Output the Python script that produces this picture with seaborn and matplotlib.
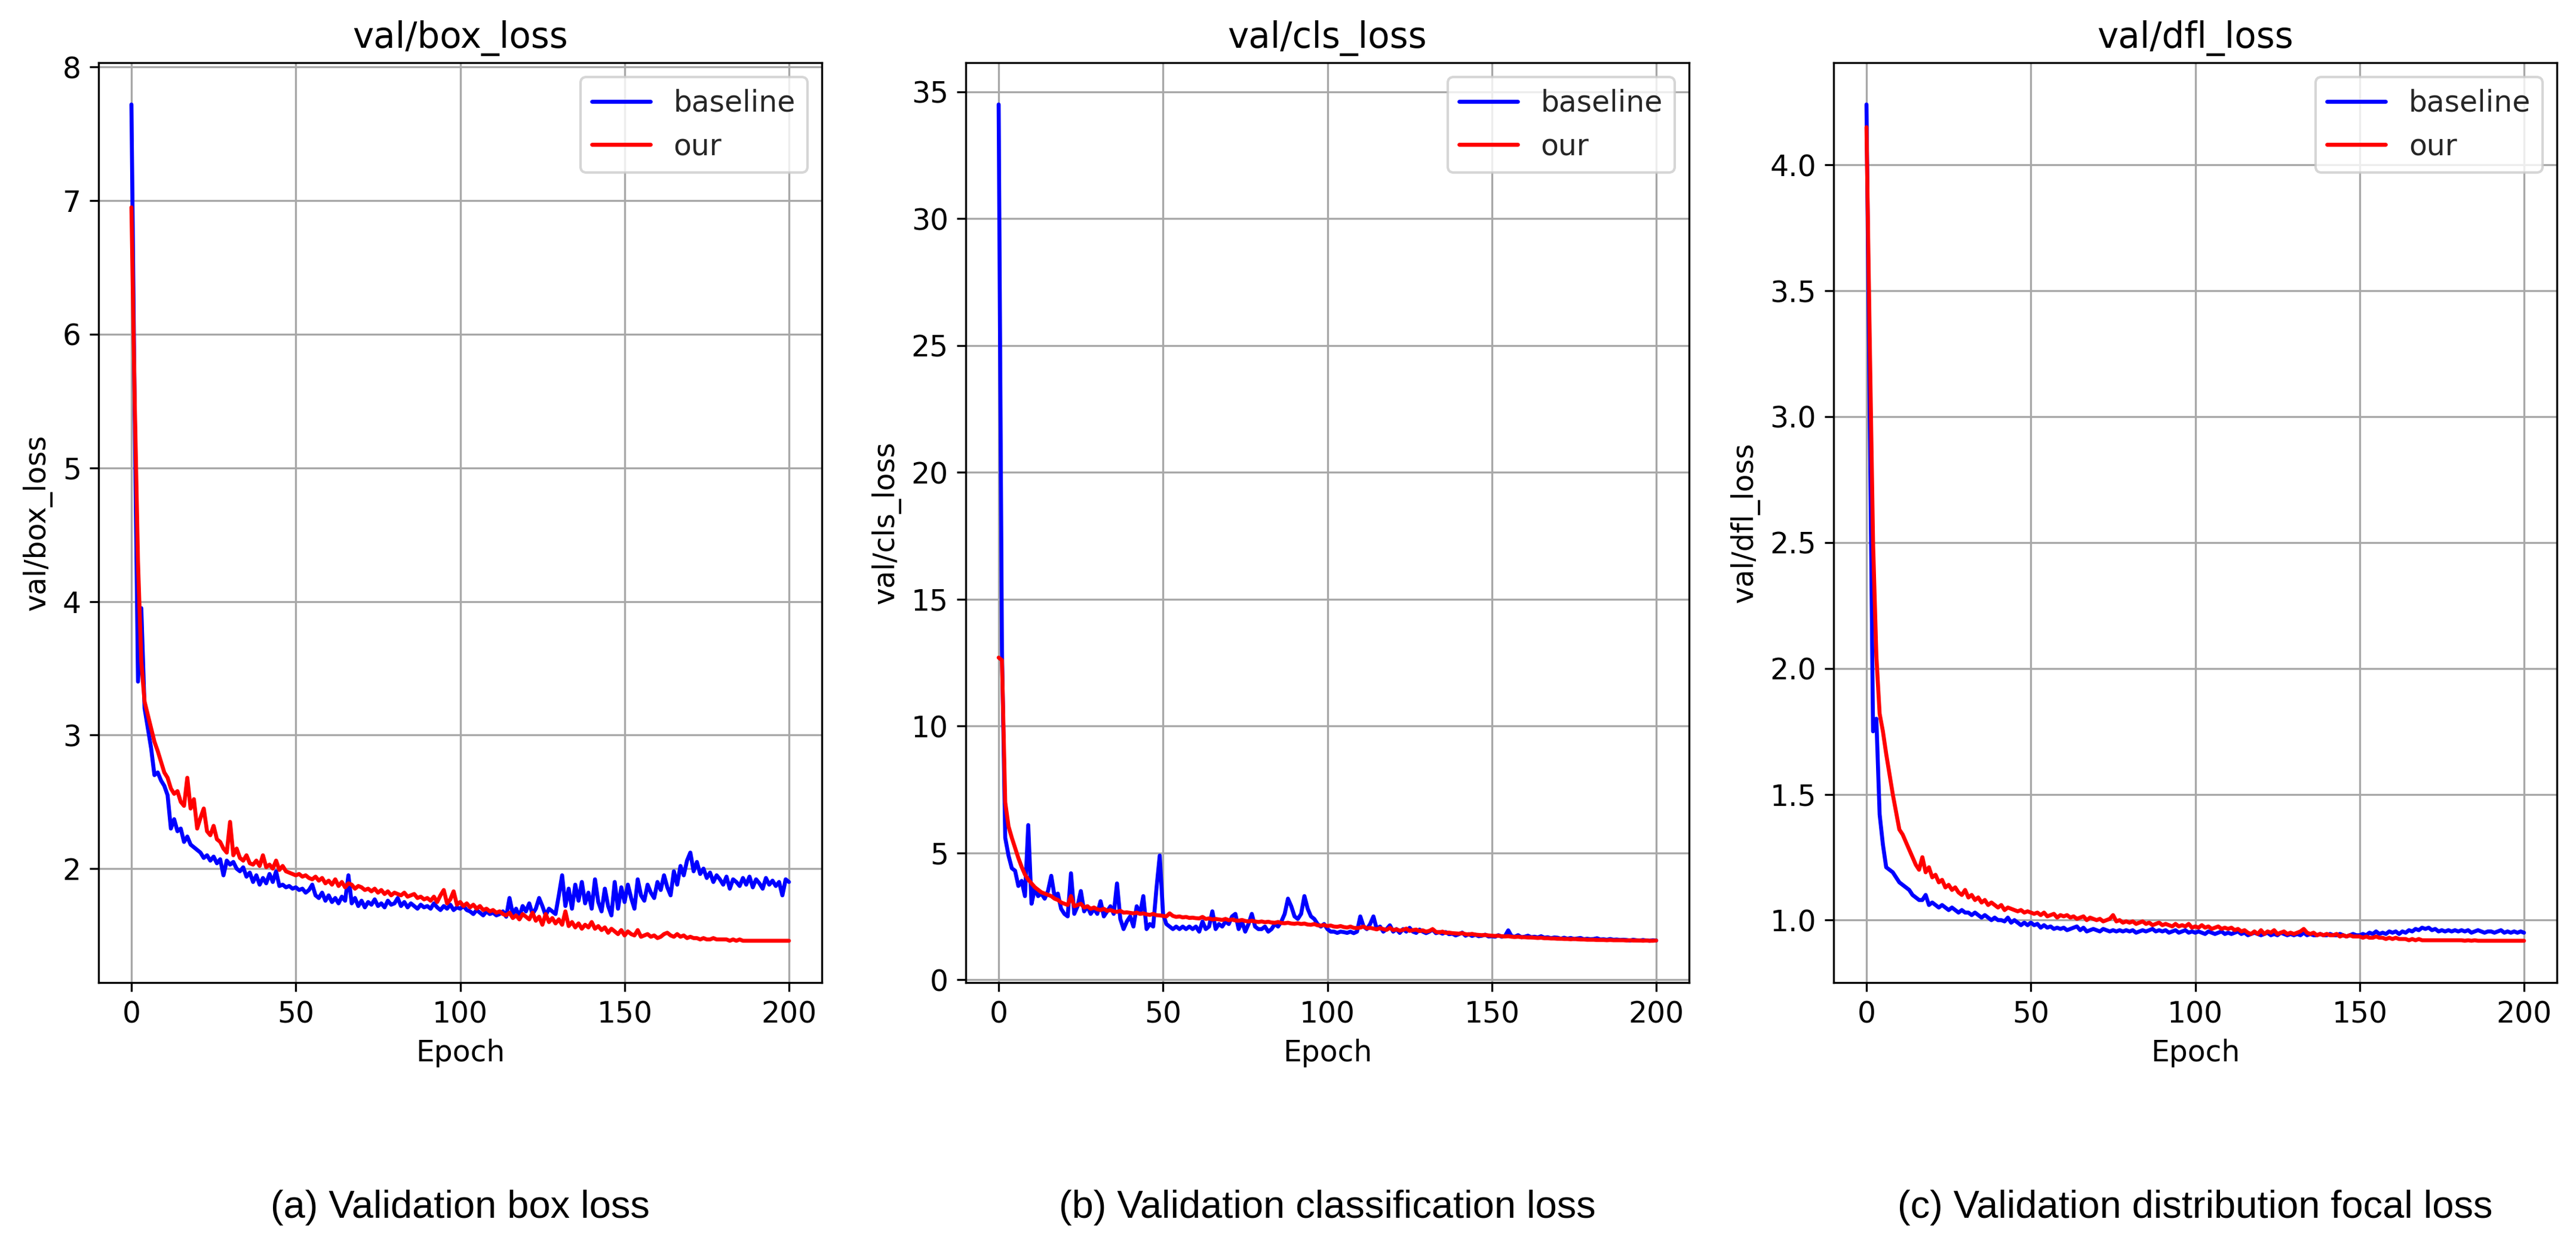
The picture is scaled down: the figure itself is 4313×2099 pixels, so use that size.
import numpy as np
import pandas as pd
import matplotlib
matplotlib.use("Agg")
import matplotlib.pyplot as plt
import seaborn as sns

# epochs shown on the x axis
epochs = list(range(201))

# val/box_loss
box_baseline = [
    7.72, 5.40, 3.40, 3.95, 3.20, 3.05, 2.90, 2.70, 2.72, 2.66,
    2.62, 2.55, 2.30, 2.37, 2.28, 2.30, 2.20, 2.24, 2.18, 2.16,
    2.14, 2.12, 2.08, 2.10, 2.06, 2.09, 2.04, 2.07, 1.95, 2.06,
    2.03, 2.05, 2.00, 1.98, 2.01, 1.94, 1.97, 1.90, 1.95, 1.88,
    1.93, 1.89, 1.96, 1.90, 1.98, 1.87, 1.88, 1.86, 1.87, 1.85,
    1.86, 1.84, 1.85, 1.82, 1.84, 1.88, 1.80, 1.78, 1.82, 1.76,
    1.80, 1.75, 1.78, 1.74, 1.79, 1.76, 1.95, 1.74, 1.78, 1.72,
    1.76, 1.71, 1.75, 1.73, 1.77, 1.72, 1.74, 1.71, 1.76, 1.73,
    1.74, 1.78, 1.72, 1.75, 1.71, 1.74, 1.72, 1.70, 1.73, 1.71,
    1.72, 1.70, 1.74, 1.71, 1.69, 1.72, 1.70, 1.73, 1.69, 1.71,
    1.70, 1.72, 1.69, 1.68, 1.66, 1.69, 1.67, 1.65, 1.68, 1.66,
    1.67, 1.65, 1.66, 1.68, 1.64, 1.78, 1.66, 1.70, 1.64, 1.72,
    1.68, 1.74, 1.66, 1.70, 1.78, 1.72, 1.65, 1.70, 1.68, 1.66,
    1.80, 1.95, 1.72, 1.85, 1.70, 1.88, 1.76, 1.90, 1.74, 1.82,
    1.70, 1.92, 1.75, 1.68, 1.85, 1.72, 1.65, 1.90, 1.70, 1.86,
    1.75, 1.88, 1.78, 1.70, 1.92, 1.80, 1.76, 1.88, 1.82, 1.78,
    1.90, 1.84, 1.95, 1.86, 1.80, 1.98, 1.88, 2.02, 1.95, 2.06,
    2.12, 1.98, 2.05, 1.96, 2.00, 1.93, 1.97, 1.90, 1.95, 1.92,
    1.88, 1.94, 1.85, 1.92, 1.90, 1.87, 1.93, 1.88, 1.94, 1.86,
    1.92, 1.89, 1.85, 1.93, 1.88, 1.91, 1.87, 1.90, 1.80, 1.92,
    1.90,
]
box_our = [
    6.95, 5.50, 4.30, 3.55, 3.25, 3.15, 3.05, 2.95, 2.88, 2.80,
    2.72, 2.68, 2.60, 2.56, 2.58, 2.50, 2.47, 2.68, 2.45, 2.52,
    2.30, 2.38, 2.45, 2.28, 2.25, 2.32, 2.22, 2.20, 2.15, 2.12,
    2.35, 2.10, 2.15, 2.08, 2.06, 2.10, 2.04, 2.03, 2.06, 2.02,
    2.10, 2.01, 2.03, 2.00, 2.06, 1.99, 2.02, 1.98, 1.97, 1.96,
    1.95, 1.96, 1.94, 1.95, 1.93, 1.92, 1.94, 1.91, 1.93, 1.89,
    1.91, 1.88, 1.92, 1.87, 1.90, 1.86, 1.89, 1.88, 1.85, 1.87,
    1.86, 1.84, 1.85, 1.83, 1.85, 1.82, 1.84, 1.81, 1.83, 1.80,
    1.82, 1.81, 1.80, 1.82, 1.79, 1.80, 1.81, 1.78, 1.79, 1.77,
    1.78, 1.76, 1.79, 1.75, 1.80, 1.84, 1.74, 1.77, 1.83, 1.73,
    1.75, 1.72, 1.74, 1.71, 1.73, 1.70, 1.72, 1.69, 1.70, 1.68,
    1.69, 1.67, 1.68, 1.66, 1.65, 1.67, 1.63, 1.65, 1.62, 1.66,
    1.64, 1.62, 1.67, 1.61, 1.64, 1.58, 1.66, 1.60, 1.63, 1.59,
    1.62, 1.58, 1.68, 1.57, 1.60, 1.56, 1.59, 1.55, 1.58, 1.56,
    1.60, 1.55, 1.57, 1.54, 1.56, 1.52, 1.55, 1.53, 1.51, 1.54,
    1.50, 1.53, 1.51, 1.50, 1.54, 1.49, 1.50, 1.51, 1.49, 1.50,
    1.48, 1.49, 1.51, 1.52, 1.50, 1.49, 1.51, 1.49, 1.50, 1.48,
    1.49, 1.48, 1.48, 1.47, 1.48, 1.47, 1.47, 1.48, 1.47, 1.47,
    1.47, 1.47, 1.46, 1.47, 1.46, 1.47, 1.46, 1.46, 1.46, 1.46,
    1.46, 1.46, 1.46, 1.46, 1.46, 1.46, 1.46, 1.46, 1.46, 1.46,
    1.46,
]

# val/cls_loss
cls_baseline = [
    34.5, 13.0, 5.60, 4.90, 4.40, 4.30, 3.70, 3.90, 3.30, 6.10,
    3.00, 3.60, 3.30, 3.40, 3.20, 3.50, 4.10, 3.30, 3.40, 2.80,
    2.60, 2.50, 4.20, 2.60, 2.90, 3.50, 2.70, 2.90, 2.60, 2.80,
    2.60, 3.10, 2.50, 2.70, 2.90, 2.60, 3.80, 2.40, 2.00, 2.30,
    2.50, 2.10, 2.90, 2.60, 3.30, 2.00, 2.20, 2.10, 3.60, 4.90,
    2.60, 2.20, 2.10, 2.00, 2.10, 2.00, 2.10, 2.00, 2.10, 2.00,
    2.10, 1.90, 2.30, 2.00, 2.10, 2.70, 2.00, 2.20, 2.10, 2.30,
    2.20, 2.50, 2.60, 2.00, 2.30, 1.90, 2.20, 2.60, 2.10, 2.00,
    2.00, 2.10, 1.90, 2.00, 2.20, 2.10, 2.30, 2.60, 3.20, 2.90,
    2.50, 2.40, 2.60, 3.30, 2.80, 2.50, 2.40, 2.20, 2.10, 2.20,
    2.00, 1.90, 1.90, 1.85, 1.90, 1.88, 1.85, 1.90, 1.84, 1.90,
    2.50, 2.10, 2.00, 2.20, 2.50, 2.00, 2.10, 1.90, 2.00, 2.15,
    1.90, 2.00, 1.85, 2.00, 1.90, 2.05, 1.90, 1.85, 1.98, 1.90,
    1.84, 1.90, 1.98, 1.84, 1.88, 1.82, 1.88, 1.80, 1.82, 1.75,
    1.80, 1.86, 1.74, 1.80, 1.73, 1.78, 1.72, 1.74, 1.78, 1.71,
    1.72, 1.70, 1.76, 1.70, 1.72, 1.95, 1.72, 1.70, 1.76, 1.68,
    1.70, 1.74, 1.68, 1.70, 1.67, 1.72, 1.66, 1.68, 1.64, 1.67,
    1.66, 1.62, 1.66, 1.62, 1.65, 1.61, 1.63, 1.65, 1.60, 1.62,
    1.60, 1.61, 1.64, 1.59, 1.60, 1.58, 1.61, 1.58, 1.59, 1.57,
    1.58, 1.57, 1.55, 1.58, 1.56, 1.55, 1.57, 1.55, 1.54, 1.56,
    1.55,
]
cls_our = [
    12.70, 12.60, 7.00, 6.05, 5.60, 5.20, 4.80, 4.45, 4.15, 3.95,
    3.80, 3.65, 3.55, 3.45, 3.40, 3.35, 3.30, 3.20, 3.15, 3.05,
    3.00, 2.95, 3.30, 2.90, 2.95, 3.00, 2.85, 2.90, 2.80, 2.85,
    2.78, 2.75, 2.80, 2.72, 2.75, 2.70, 2.68, 2.72, 2.65, 2.66,
    2.64, 2.62, 2.65, 2.60, 2.62, 2.58, 2.56, 2.60, 2.55, 2.54,
    2.52, 2.50, 2.62, 2.52, 2.48, 2.50, 2.46, 2.48, 2.44, 2.45,
    2.43, 2.42, 2.48, 2.40, 2.42, 2.38, 2.40, 2.38, 2.36, 2.40,
    2.35, 2.38, 2.34, 2.33, 2.36, 2.32, 2.30, 2.33, 2.30, 2.28,
    2.30, 2.27, 2.29, 2.26, 2.25, 2.28, 2.24, 2.23, 2.25, 2.22,
    2.21, 2.23, 2.20, 2.22, 2.18, 2.17, 2.20, 2.15, 2.14, 2.16,
    2.12, 2.14, 2.10, 2.09, 2.12, 2.08, 2.06, 2.10, 2.05, 2.04,
    2.06, 2.10, 2.03, 2.05, 2.02, 1.99, 2.04, 2.00, 1.97, 2.05,
    1.96, 1.99, 1.94, 1.97, 2.02, 1.93, 1.96, 1.98, 1.92, 1.95,
    1.90, 1.93, 2.00, 1.89, 1.87, 1.90, 1.85, 1.86, 1.84, 1.83,
    1.82, 1.84, 1.80, 1.79, 1.81, 1.78, 1.77, 1.76, 1.77, 1.75,
    1.74, 1.73, 1.74, 1.72, 1.71, 1.72, 1.70, 1.69, 1.70, 1.68,
    1.68, 1.67, 1.67, 1.66, 1.65, 1.66, 1.64, 1.64, 1.63, 1.63,
    1.62, 1.62, 1.61, 1.61, 1.60, 1.61, 1.60, 1.59, 1.59, 1.58,
    1.58, 1.58, 1.57, 1.57, 1.57, 1.56, 1.57, 1.56, 1.56, 1.56,
    1.56, 1.55, 1.56, 1.55, 1.55, 1.55, 1.54, 1.55, 1.54, 1.54,
    1.55,
]

# val/dfl_loss
dfl_baseline = [
    4.24, 3.00, 1.75, 1.80, 1.42, 1.30, 1.21, 1.20, 1.19, 1.17,
    1.15, 1.14, 1.13, 1.12, 1.10, 1.09, 1.08, 1.08, 1.10, 1.06,
    1.07, 1.06, 1.05, 1.06, 1.05, 1.04, 1.05, 1.04, 1.03, 1.04,
    1.03, 1.03, 1.02, 1.03, 1.02, 1.01, 1.02, 1.01, 1.00, 1.01,
    1.00, 1.00, 0.995, 1.01, 0.99, 1.00, 0.99, 0.98, 0.99, 0.98,
    0.99, 0.98, 0.985, 0.97, 0.98, 0.97, 0.975, 0.965, 0.97, 0.965,
    0.97, 0.96, 0.965, 0.97, 0.975, 0.96, 0.97, 0.955, 0.96, 0.965,
    0.96, 0.955, 0.965, 0.96, 0.955, 0.96, 0.955, 0.96, 0.955, 0.96,
    0.955, 0.96, 0.95, 0.955, 0.96, 0.955, 0.96, 0.965, 0.955, 0.96,
    0.955, 0.96, 0.95, 0.955, 0.96, 0.95, 0.955, 0.96, 0.95, 0.955,
    0.95, 0.955, 0.95, 0.945, 0.955, 0.95, 0.945, 0.95, 0.955, 0.945,
    0.95, 0.945, 0.95, 0.955, 0.945, 0.95, 0.94, 0.945, 0.95, 0.945,
    0.94, 0.945, 0.95, 0.94, 0.945, 0.94, 0.95, 0.945, 0.94, 0.945,
    0.94, 0.945, 0.94, 0.95, 0.94, 0.945, 0.94, 0.94, 0.945, 0.94,
    0.94, 0.945, 0.94, 0.94, 0.945, 0.94, 0.935, 0.94, 0.945, 0.94,
    0.94, 0.945, 0.94, 0.95, 0.945, 0.955, 0.945, 0.95, 0.945, 0.955,
    0.95, 0.955, 0.945, 0.955, 0.95, 0.96, 0.955, 0.965, 0.96, 0.97,
    0.965, 0.97, 0.96, 0.965, 0.955, 0.96, 0.955, 0.96, 0.955, 0.96,
    0.955, 0.96, 0.955, 0.96, 0.95, 0.955, 0.96, 0.955, 0.95, 0.955,
    0.955, 0.95, 0.955, 0.96, 0.95, 0.955, 0.95, 0.955, 0.95, 0.955,
    0.95,
]
dfl_our = [
    4.15, 3.30, 2.50, 2.05, 1.82, 1.75, 1.66, 1.58, 1.50, 1.43,
    1.36, 1.34, 1.31, 1.28, 1.25, 1.22, 1.20, 1.25, 1.19, 1.21,
    1.17, 1.18, 1.15, 1.16, 1.13, 1.14, 1.12, 1.13, 1.11, 1.10,
    1.12, 1.09, 1.10, 1.08, 1.09, 1.07, 1.08, 1.06, 1.07, 1.06,
    1.05, 1.06, 1.04, 1.05, 1.045, 1.04, 1.035, 1.04, 1.03, 1.035,
    1.03, 1.025, 1.03, 1.02, 1.03, 1.015, 1.02, 1.025, 1.01, 1.02,
    1.015, 1.02, 1.01, 1.015, 1.005, 1.01, 1.015, 1.00, 1.01, 1.005,
    1.00, 1.005, 0.995, 1.00, 1.005, 1.02, 0.995, 1.00, 0.99, 0.995,
    0.99, 0.995, 0.985, 0.99, 0.995, 0.985, 0.99, 0.98, 0.985, 0.99,
    0.98, 0.985, 0.98, 0.975, 0.985, 0.975, 0.98, 0.975, 0.985, 0.97,
    0.975, 0.97, 0.98, 0.97, 0.975, 0.965, 0.97, 0.975, 0.965, 0.97,
    0.965, 0.97, 0.96, 0.965, 0.955, 0.96, 0.95, 0.945, 0.955, 0.945,
    0.96, 0.945, 0.955, 0.95, 0.96, 0.945, 0.95, 0.955, 0.945, 0.95,
    0.945, 0.95, 0.955, 0.965, 0.95, 0.945, 0.95, 0.94, 0.945, 0.94,
    0.945, 0.94, 0.94, 0.945, 0.935, 0.94, 0.935, 0.94, 0.935, 0.935,
    0.935, 0.93, 0.935, 0.93, 0.93, 0.935, 0.93, 0.93, 0.925, 0.93,
    0.925, 0.93, 0.925, 0.925, 0.925, 0.92, 0.925, 0.92, 0.925, 0.92,
    0.92, 0.92, 0.92, 0.92, 0.92, 0.92, 0.92, 0.92, 0.92, 0.92,
    0.92, 0.92, 0.918, 0.92, 0.918, 0.92, 0.918, 0.918, 0.918, 0.918,
    0.918, 0.918, 0.918, 0.918, 0.918, 0.918, 0.918, 0.918, 0.918, 0.918,
    0.918,
]

metrics = ["val/box_loss", "val/cls_loss", "val/dfl_loss"]
captions = ["(a) Validation box loss", "(b) Validation classification loss",
            "(c) Validation distribution focal loss"]
yticks = [[2, 3, 4, 5, 6, 7, 8], [0, 5, 10, 15, 20, 25, 30, 35],
          [1.0, 1.5, 2.0, 2.5, 3.0, 3.5, 4.0]]
series = {
    "val/box_loss": (box_baseline, box_our),
    "val/cls_loss": (cls_baseline, cls_our),
    "val/dfl_loss": (dfl_baseline, dfl_our),
}

# long-form table for seaborn
rows = []
for m in metrics:
    base, our = series[m]
    for e, b, o in zip(epochs, base, our):
        rows.append((m, "baseline", e, b))
        rows.append((m, "our", e, o))
df = pd.DataFrame(rows, columns=["metric", "model", "Epoch", "value"])

sns.set_theme(style="ticks", rc={
    "axes.edgecolor": "black",
    "axes.linewidth": 0.8,
    "xtick.color": "black",
    "ytick.color": "black",
    "xtick.major.width": 0.8,
    "ytick.major.width": 0.8,
    "xtick.major.size": 3.5,
    "ytick.major.size": 3.5,
    "font.size": 11.7,
    "axes.labelsize": 11.7,
    "axes.titlesize": 14.3,
    "xtick.labelsize": 11.7,
    "ytick.labelsize": 11.7,
    "legend.fontsize": 11.7,
})
plt.rcParams["font.family"] = ["DejaVu Sans"]

fig = plt.figure(figsize=(4313 / 300, 2099 / 300), dpi=300)
lefts = [165 / 4313, 1617 / 4313, 3070 / 4313]
width = 1211 / 4313
bottom = 1 - 1646 / 2099
height = (1646 - 105) / 2099

palette = {"baseline": "#0000ff", "our": "#ff0000"}

for i, m in enumerate(metrics):
    ax = fig.add_axes([lefts[i], bottom, width, height])
    sub = df[df["metric"] == m]
    sns.lineplot(data=sub, x="Epoch", y="value", hue="model", palette=palette,
                 estimator=None, linewidth=1.6, ax=ax)
    ax.grid(True, color="#a8a8a8", linewidth=0.8)
    ax.set_axisbelow(True)
    ax.set_title(m, color="black")
    ax.set_xlabel("Epoch", color="black")
    ax.set_ylabel(m, color="black")
    ax.set_xticks([0, 50, 100, 150, 200])
    ax.set_yticks(yticks[i])
    ax.legend(loc="upper right", frameon=True, framealpha=0.8,
              edgecolor="#cccccc", fancybox=True)
    fig.text(lefts[i] + width / 2, 59 / 2099, captions[i], ha="center",
             va="baseline", fontsize=15.6, family=["Liberation Sans", "DejaVu Sans"],
             color="black")

fig.savefig("out.png", dpi=300, facecolor="white")
